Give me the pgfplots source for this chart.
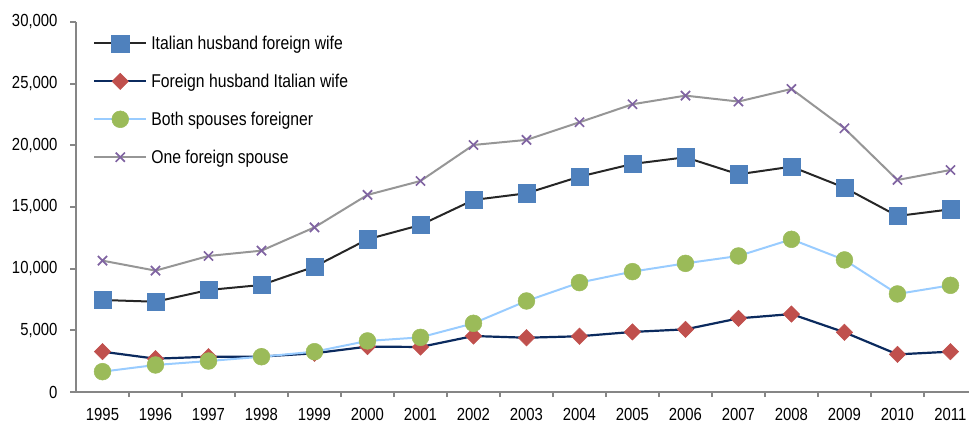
\documentclass[border=0pt]{standalone}
\usepackage{pgfplots}
\pgfplotsset{compat=1.18}
\usepackage{fontspec}
\setmainfont[FakeStretch=0.85]{Liberation Sans}

\definecolor{axgray}{HTML}{868686}
\definecolor{lnA}{HTML}{262626}
\definecolor{mkA}{HTML}{4F81BD}
\definecolor{lnB}{HTML}{0B2A5E}
\definecolor{mkB}{HTML}{C0504D}
\definecolor{lnC}{HTML}{99CCFF}
\definecolor{mkC}{HTML}{9BBB59}
\definecolor{lnD}{HTML}{969696}
\definecolor{mkD}{HTML}{8064A2}

\begin{document}
\begin{tikzpicture}
\begin{axis}[
    at={(76pt,31pt)}, anchor=south west,
    scale only axis, width=893pt, height=370pt,
    xmin=1994.5, xmax=2011.35,
    ymin=0, ymax=30000,
    axis x line=bottom, axis y line=left,
    axis line style={-, draw=axgray, line width=2pt},
    xtick={1995,...,2011},
    xticklabels={1995,1996,1997,1998,1999,2000,2001,2002,2003,2004,2005,2006,2007,2008,2009,2010,2011},
    major x tick style={draw=none},
    minor xtick={1995.5,1996.5,...,2010.5},
    minor x tick style={draw=axgray, line width=2pt},
    minor tick length=5pt,
    ytick={0,5000,...,30000},
    y tick style={draw=axgray, line width=2pt},
    major tick length=6pt,
    tick align=outside,
    yticklabel style={xshift=-9pt},
    xticklabel style={yshift=-7pt},
    scaled y ticks=false,
    /pgf/number format/1000 sep={,},
    /pgf/number format/assume math mode=true,
    tick label style={font=\fontsize{17.5}{20}\selectfont, black},
    clip=false,
    legend style={at={(axis description cs:0.019,0.968)}, anchor=north west,
        draw=none, fill=none, inner sep=0pt, row sep=19pt,
        font=\fontsize{18.5}{22}\selectfont,
        nodes={inner sep=2pt},
        /tikz/every odd column/.append style={column sep=2pt}},
    legend cell align=left,
    legend image code/.code={\draw[mark repeat=2,mark phase=2] plot coordinates {(0pt,0pt) (26pt,0pt) (52pt,0pt)};},
]
\addplot[color=lnA, line width=2pt, mark=square*, mark size=8.6pt,
    mark options={draw=mkA, fill=mkA, line width=0.5pt}]
  coordinates {
  (1995,7460) (1996,7320) (1997,8270) (1998,8680) (1999,10160) (2000,12380)
  (2001,13540) (2002,15570) (2003,16110) (2004,17460) (2005,18490) (2006,19030)
  (2007,17650) (2008,18270) (2009,16570) (2010,14270) (2011,14810)};
\addlegendentry{Italian husband foreign wife}

\addplot[color=lnB, line width=2.2pt, mark=square*, mark size=5.8pt,
    mark options={draw=mkB, fill=mkB, line width=0.5pt, rotate=45}]
  coordinates {
  (1995,3270) (1996,2700) (1997,2860) (1998,2870) (1999,3140) (2000,3680)
  (2001,3650) (2002,4540) (2003,4400) (2004,4520) (2005,4870) (2006,5080)
  (2007,5970) (2008,6320) (2009,4840) (2010,3050) (2011,3270)};
\addlegendentry{Foreign husband Italian wife}

\addplot[color=lnC, line width=2pt, mark=*, mark size=8.4pt,
    mark options={draw=mkC, fill=mkC, line width=0.5pt}]
  coordinates {
  (1995,1650) (1996,2190) (1997,2510) (1998,2860) (1999,3270) (2000,4140)
  (2001,4430) (2002,5570) (2003,7380) (2004,8870) (2005,9760) (2006,10430)
  (2007,11030) (2008,12380) (2009,10710) (2010,7950) (2011,8650)};
\addlegendentry{Both spouses foreigner}

\addplot[color=lnD, line width=2pt, mark=x, mark size=6.5pt,
    mark options={draw=mkD, line width=1.7pt}]
  coordinates {
  (1995,10650) (1996,9840) (1997,11030) (1998,11460) (1999,13350) (2000,15980)
  (2001,17110) (2002,20030) (2003,20440) (2004,21870) (2005,23330) (2006,24030)
  (2007,23550) (2008,24570) (2009,21380) (2010,17190) (2011,18000)};
\addlegendentry{One foreign spouse}
\end{axis}
\pgfresetboundingbox
\useasboundingbox (0pt,0pt) rectangle (970pt,423pt);
\end{tikzpicture}
\end{document}
